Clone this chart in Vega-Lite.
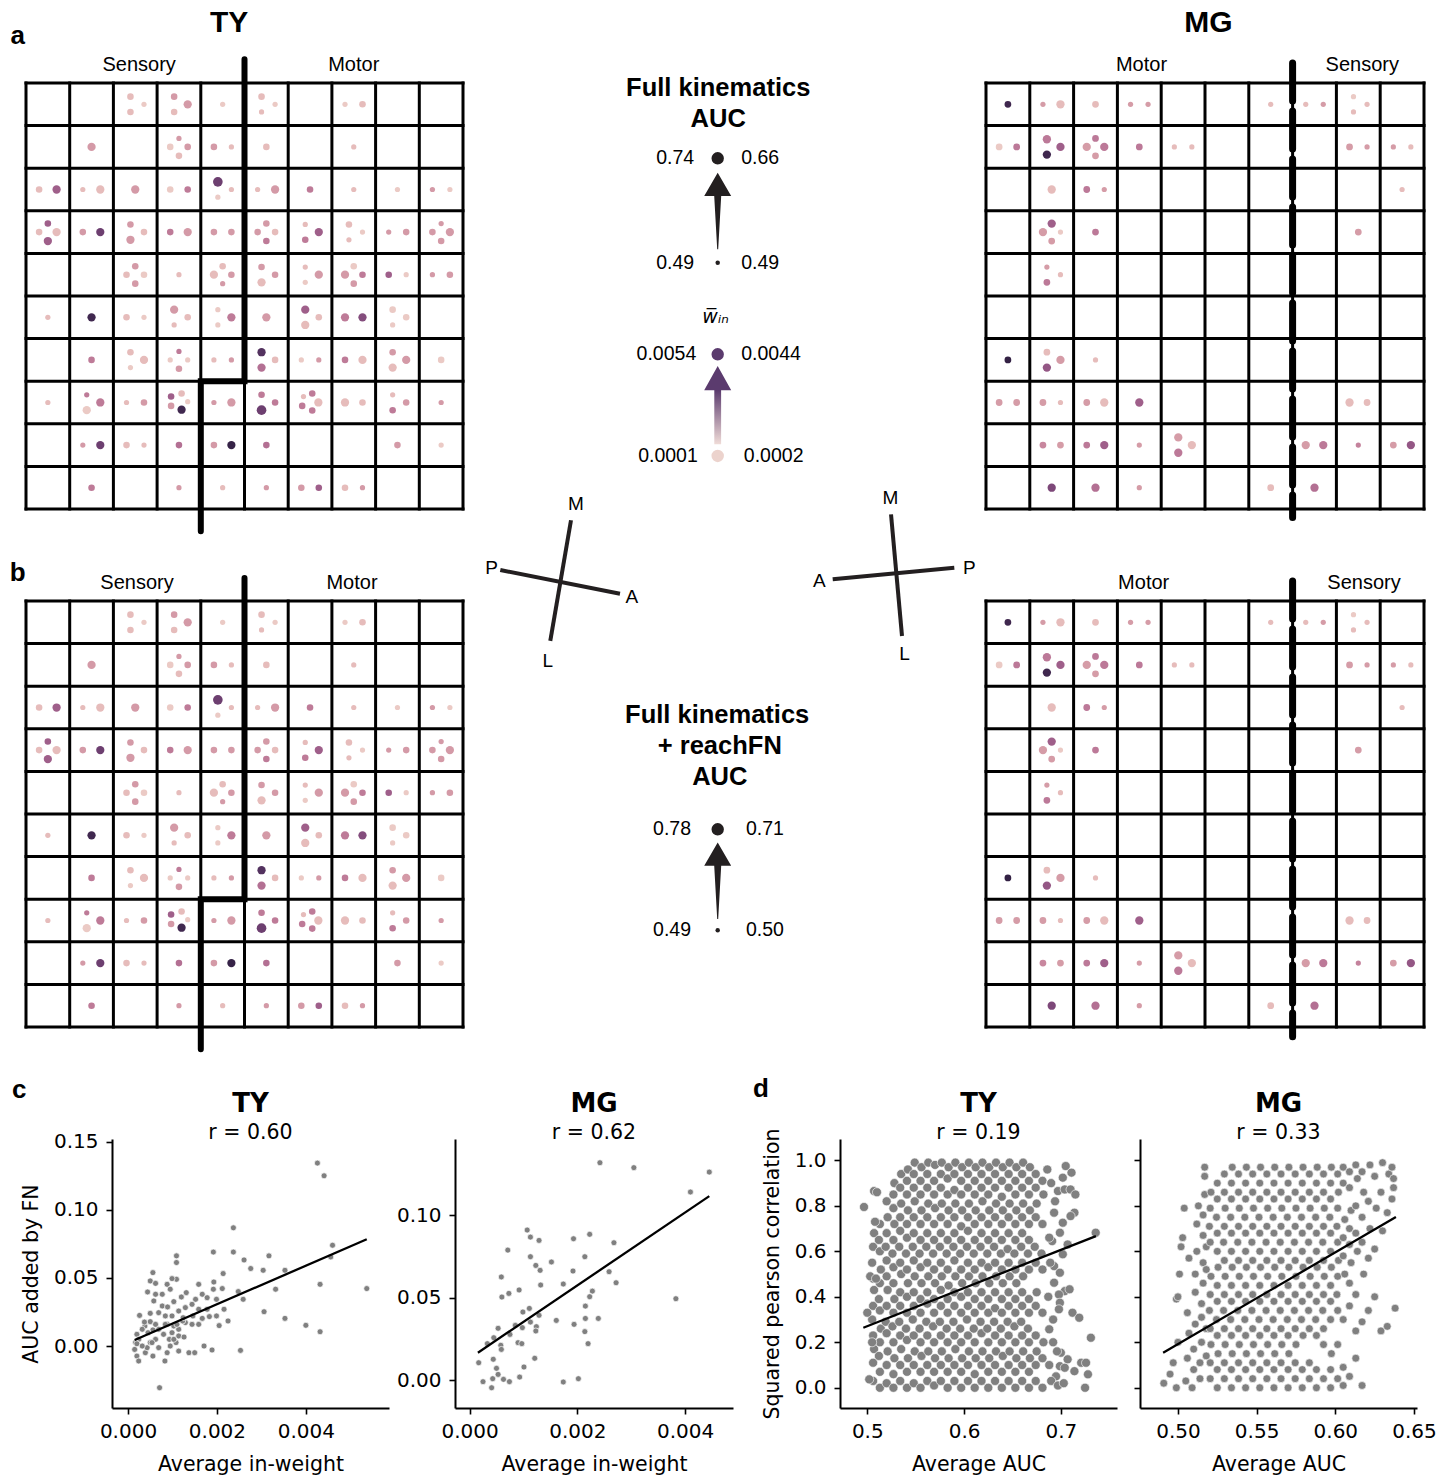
{
"$schema":"https://vega.github.io/schema/vega-lite/v6.json",
"background":"white",
"padding":{"left":9,"top":7,"right":4,"bottom":4},
"config":{
"view":{"stroke":null},
"font":"Liberation Sans",
"text":{"color":"#000"},
"axis":{"labelFont":"DejaVu Sans","titleFont":"DejaVu Sans","labelFontSize":20,"titleFontSize":20.5,"titleFontWeight":"normal","labelColor":"#000","titleColor":"#000","domainColor":"#000","domainWidth":2,"tickColor":"#000","tickWidth":1.6,"tickSize":6,"grid":false,"labelFlush":false},
"axisX":{"labelPadding":7,"titlePadding":13},
"axisY":{"labelPadding":8,"titlePadding":12},
"title":{"font":"DejaVu Sans","fontSize":26,"fontWeight":"bold","color":"#000","subtitleFont":"DejaVu Sans","subtitleFontSize":20.5,"subtitleColor":"#000","subtitlePadding":6,"offset":-4,"frame":"group"}
},
"datasets":{
"gv":[{"v":0,"lo":0,"hi":10},{"v":1,"lo":0,"hi":10},{"v":2,"lo":0,"hi":10},{"v":3,"lo":0,"hi":10},{"v":4,"lo":0,"hi":10},{"v":5,"lo":0,"hi":10},{"v":6,"lo":0,"hi":10},{"v":7,"lo":0,"hi":10},{"v":8,"lo":0,"hi":10},{"v":9,"lo":0,"hi":10},{"v":10,"lo":0,"hi":10}],
"ty":[
{"x":2.39,"y":0.32,"a":0.53,"w":0.00058},{"x":2.7,"y":0.5,"a":0.505,"w":0.00026},{"x":2.39,"y":0.68,"a":0.53,"w":0.00058},{"x":3.39,"y":0.32,"a":0.53,"w":0.0014},{"x":3.7,"y":0.5,"a":0.57,"w":0.0014},{"x":3.39,"y":0.68,"a":0.53,"w":0.00058},{"x":4.5,"y":0.5,"a":0.505,"w":0.00026},{"x":5.39,"y":0.32,"a":0.53,"w":0.00058},{"x":5.7,"y":0.5,"a":0.505,"w":0.00026},{"x":5.39,"y":0.68,"a":0.505,"w":0.00058},{"x":7.3,"y":0.5,"a":0.505,"w":0.00026},{"x":7.7,"y":0.5,"a":0.53,"w":0.00058},
{"x":1.5,"y":1.5,"a":0.57,"w":0.0014},{"x":3.5,"y":1.3,"a":0.505,"w":0.0014},{"x":3.3,"y":1.5,"a":0.53,"w":0.00026},{"x":3.7,"y":1.5,"a":0.53,"w":0.0014},{"x":3.5,"y":1.71,"a":0.53,"w":0.00058},{"x":4.3,"y":1.5,"a":0.53,"w":0.0014},{"x":4.7,"y":1.5,"a":0.505,"w":0.00058},{"x":5.5,"y":1.5,"a":0.53,"w":0.00058},{"x":7.5,"y":1.5,"a":0.505,"w":0.00058},
{"x":0.3,"y":2.5,"a":0.53,"w":0.00058},{"x":0.7,"y":2.5,"a":0.57,"w":0.003},{"x":1.3,"y":2.5,"a":0.505,"w":0.00058},{"x":1.7,"y":2.5,"a":0.57,"w":0.00058},{"x":2.5,"y":2.5,"a":0.57,"w":0.0014},{"x":3.3,"y":2.5,"a":0.53,"w":0.00026},{"x":3.7,"y":2.5,"a":0.53,"w":0.0022},{"x":4.39,"y":2.32,"a":0.61,"w":0.0041},{"x":4.7,"y":2.5,"a":0.505,"w":0.00058},{"x":4.39,"y":2.68,"a":0.505,"w":0.00026},{"x":5.3,"y":2.5,"a":0.505,"w":0.00058},{"x":5.7,"y":2.5,"a":0.57,"w":0.0014},{"x":6.5,"y":2.5,"a":0.53,"w":0.0022},{"x":7.5,"y":2.5,"a":0.505,"w":0.00058},{"x":8.5,"y":2.5,"a":0.505,"w":0.00026},{"x":9.3,"y":2.5,"a":0.505,"w":0.0014},{"x":9.7,"y":2.5,"a":0.505,"w":0.00026},
{"x":0.5,"y":3.3,"a":0.53,"w":0.003},{"x":0.3,"y":3.5,"a":0.53,"w":0.00058},{"x":0.7,"y":3.5,"a":0.57,"w":0.00058},{"x":0.5,"y":3.71,"a":0.57,"w":0.003},{"x":1.3,"y":3.5,"a":0.53,"w":0.0014},{"x":1.7,"y":3.5,"a":0.57,"w":0.0041},{"x":2.39,"y":3.32,"a":0.53,"w":0.0014},{"x":2.7,"y":3.5,"a":0.53,"w":0.00058},{"x":2.39,"y":3.68,"a":0.57,"w":0.0014},{"x":3.3,"y":3.5,"a":0.53,"w":0.0022},{"x":3.7,"y":3.5,"a":0.57,"w":0.0014},{"x":4.3,"y":3.5,"a":0.53,"w":0.0014},{"x":4.7,"y":3.5,"a":0.53,"w":0.0014},{"x":5.5,"y":3.3,"a":0.53,"w":0.0014},{"x":5.3,"y":3.5,"a":0.53,"w":0.0014},{"x":5.7,"y":3.5,"a":0.53,"w":0.00058},{"x":5.5,"y":3.71,"a":0.53,"w":0.0022},{"x":6.39,"y":3.32,"a":0.505,"w":0.00058},{"x":6.7,"y":3.5,"a":0.57,"w":0.003},{"x":6.39,"y":3.68,"a":0.53,"w":0.0022},{"x":7.39,"y":3.32,"a":0.53,"w":0.00058},{"x":7.7,"y":3.5,"a":0.505,"w":0.00026},{"x":7.39,"y":3.68,"a":0.505,"w":0.00058},{"x":8.3,"y":3.5,"a":0.505,"w":0.0014},{"x":8.7,"y":3.5,"a":0.53,"w":0.0014},{"x":9.5,"y":3.3,"a":0.505,"w":0.0014},{"x":9.3,"y":3.5,"a":0.53,"w":0.0014},{"x":9.7,"y":3.5,"a":0.57,"w":0.0014},{"x":9.5,"y":3.71,"a":0.53,"w":0.0014},
{"x":2.5,"y":4.3,"a":0.53,"w":0.0014},{"x":2.3,"y":4.5,"a":0.53,"w":0.00058},{"x":2.7,"y":4.5,"a":0.53,"w":0.00026},{"x":2.5,"y":4.71,"a":0.53,"w":0.0014},{"x":3.5,"y":4.5,"a":0.505,"w":0.00058},{"x":4.5,"y":4.3,"a":0.53,"w":0.00058},{"x":4.3,"y":4.5,"a":0.57,"w":0.00058},{"x":4.7,"y":4.5,"a":0.53,"w":0.0014},{"x":4.5,"y":4.71,"a":0.505,"w":0.0014},{"x":5.39,"y":4.32,"a":0.53,"w":0.0014},{"x":5.7,"y":4.5,"a":0.53,"w":0.0014},{"x":5.39,"y":4.68,"a":0.57,"w":0.00058},{"x":6.39,"y":4.32,"a":0.505,"w":0.00058},{"x":6.7,"y":4.5,"a":0.57,"w":0.0014},{"x":6.39,"y":4.68,"a":0.505,"w":0.00026},{"x":7.5,"y":4.3,"a":0.53,"w":0.00026},{"x":7.3,"y":4.5,"a":0.57,"w":0.0014},{"x":7.7,"y":4.5,"a":0.53,"w":0.0022},{"x":7.5,"y":4.71,"a":0.53,"w":0.0014},{"x":8.3,"y":4.5,"a":0.53,"w":0.003},{"x":8.7,"y":4.5,"a":0.505,"w":0.00026},{"x":9.3,"y":4.5,"a":0.505,"w":0.0014},{"x":9.7,"y":4.5,"a":0.53,"w":0.0014},
{"x":0.5,"y":5.5,"a":0.505,"w":0.00058},{"x":1.5,"y":5.5,"a":0.57,"w":0.005},{"x":2.3,"y":5.5,"a":0.53,"w":0.00058},{"x":2.7,"y":5.5,"a":0.505,"w":0.00026},{"x":3.39,"y":5.32,"a":0.57,"w":0.0014},{"x":3.7,"y":5.5,"a":0.53,"w":0.00058},{"x":3.39,"y":5.68,"a":0.505,"w":0.00058},{"x":4.39,"y":5.32,"a":0.505,"w":0.00026},{"x":4.7,"y":5.5,"a":0.57,"w":0.0022},{"x":4.39,"y":5.68,"a":0.505,"w":0.00026},{"x":5.5,"y":5.5,"a":0.57,"w":0.0014},{"x":6.39,"y":5.32,"a":0.57,"w":0.003},{"x":6.7,"y":5.5,"a":0.53,"w":0.00058},{"x":6.39,"y":5.68,"a":0.57,"w":0.00058},{"x":7.3,"y":5.5,"a":0.57,"w":0.0022},{"x":7.7,"y":5.5,"a":0.57,"w":0.0036},{"x":8.39,"y":5.32,"a":0.53,"w":0.00026},{"x":8.7,"y":5.5,"a":0.53,"w":0.00026},{"x":8.39,"y":5.68,"a":0.505,"w":0.00026},
{"x":1.5,"y":6.5,"a":0.53,"w":0.0022},{"x":2.39,"y":6.32,"a":0.53,"w":0.00058},{"x":2.7,"y":6.5,"a":0.57,"w":0.00058},{"x":2.39,"y":6.68,"a":0.505,"w":0.00026},{"x":3.5,"y":6.3,"a":0.505,"w":0.0022},{"x":3.3,"y":6.5,"a":0.505,"w":0.00026},{"x":3.7,"y":6.5,"a":0.505,"w":0.00026},{"x":3.5,"y":6.71,"a":0.53,"w":0.0014},{"x":4.3,"y":6.5,"a":0.505,"w":0.00058},{"x":4.7,"y":6.5,"a":0.505,"w":0.0014},{"x":5.39,"y":6.32,"a":0.57,"w":0.0046},{"x":5.7,"y":6.5,"a":0.53,"w":0.00058},{"x":5.39,"y":6.68,"a":0.57,"w":0.0025},{"x":6.3,"y":6.5,"a":0.505,"w":0.00026},{"x":6.7,"y":6.5,"a":0.505,"w":0.0014},{"x":7.3,"y":6.5,"a":0.53,"w":0.0022},{"x":7.7,"y":6.5,"a":0.57,"w":0.00058},{"x":8.39,"y":6.32,"a":0.53,"w":0.0014},{"x":8.7,"y":6.5,"a":0.57,"w":0.0014},{"x":8.39,"y":6.68,"a":0.57,"w":0.00058},{"x":9.5,"y":6.5,"a":0.53,"w":0.00026},
{"x":0.5,"y":7.5,"a":0.505,"w":0.00058},{"x":1.39,"y":7.32,"a":0.505,"w":0.0022},{"x":1.7,"y":7.5,"a":0.57,"w":0.0022},{"x":1.39,"y":7.68,"a":0.57,"w":0.00026},{"x":2.3,"y":7.5,"a":0.505,"w":0.00058},{"x":2.7,"y":7.5,"a":0.53,"w":0.0014},{"x":3.32,"y":7.36,"a":0.53,"w":0.003},{"x":3.56,"y":7.29,"a":0.53,"w":0.00058},{"x":3.7,"y":7.48,"a":0.505,"w":0.00026},{"x":3.32,"y":7.58,"a":0.53,"w":0.0014},{"x":3.56,"y":7.67,"a":0.57,"w":0.005},{"x":4.3,"y":7.5,"a":0.505,"w":0.0014},{"x":4.7,"y":7.5,"a":0.57,"w":0.0014},{"x":5.39,"y":7.32,"a":0.53,"w":0.0022},{"x":5.7,"y":7.5,"a":0.53,"w":0.0022},{"x":5.39,"y":7.68,"a":0.61,"w":0.0041},{"x":6.35,"y":7.36,"a":0.505,"w":0.00058},{"x":6.55,"y":7.29,"a":0.53,"w":0.0022},{"x":6.69,"y":7.5,"a":0.57,"w":0.00058},{"x":6.32,"y":7.58,"a":0.53,"w":0.0022},{"x":6.55,"y":7.69,"a":0.53,"w":0.0022},{"x":7.3,"y":7.5,"a":0.57,"w":0.00058},{"x":7.7,"y":7.5,"a":0.53,"w":0.00058},{"x":8.39,"y":7.32,"a":0.505,"w":0.00058},{"x":8.7,"y":7.5,"a":0.53,"w":0.0014},{"x":8.39,"y":7.68,"a":0.53,"w":0.0022},{"x":9.5,"y":7.5,"a":0.505,"w":0.0014},
{"x":1.3,"y":8.5,"a":0.505,"w":0.0014},{"x":1.7,"y":8.5,"a":0.57,"w":0.0041},{"x":2.3,"y":8.5,"a":0.53,"w":0.00058},{"x":2.7,"y":8.5,"a":0.505,"w":0.00058},{"x":3.5,"y":8.5,"a":0.53,"w":0.0025},{"x":4.3,"y":8.5,"a":0.53,"w":0.0014},{"x":4.7,"y":8.5,"a":0.57,"w":0.0052},{"x":5.5,"y":8.5,"a":0.53,"w":0.0025},{"x":8.5,"y":8.5,"a":0.53,"w":0.0014},{"x":9.5,"y":8.5,"a":0.505,"w":0.00026},
{"x":1.5,"y":9.5,"a":0.53,"w":0.0022},{"x":3.5,"y":9.5,"a":0.505,"w":0.0014},{"x":4.5,"y":9.5,"a":0.505,"w":0.00058},{"x":5.5,"y":9.5,"a":0.505,"w":0.0014},{"x":6.3,"y":9.5,"a":0.53,"w":0.0014},{"x":6.7,"y":9.5,"a":0.53,"w":0.003},{"x":7.3,"y":9.5,"a":0.53,"w":0.00058},{"x":7.7,"y":9.5,"a":0.505,"w":0.0014}
],
"mg":[
{"x":0.5,"y":0.5,"a":0.52,"w":0.0041},{"x":1.3,"y":0.5,"a":0.5,"w":0.0012},{"x":1.7,"y":0.5,"a":0.545,"w":0.00058},{"x":2.5,"y":0.5,"a":0.52,"w":0.00058},{"x":3.3,"y":0.5,"a":0.5,"w":0.0012},{"x":3.7,"y":0.5,"a":0.5,"w":0.0012},{"x":6.5,"y":0.5,"a":0.5,"w":0.00058},{"x":7.3,"y":0.5,"a":0.5,"w":0.00058},{"x":7.7,"y":0.5,"a":0.5,"w":0.0012},{"x":8.39,"y":0.32,"a":0.5,"w":0.00033},{"x":8.7,"y":0.5,"a":0.5,"w":0.00058},{"x":8.39,"y":0.68,"a":0.5,"w":0.00058},
{"x":0.3,"y":1.5,"a":0.52,"w":0.00033},{"x":0.7,"y":1.5,"a":0.52,"w":0.0019},{"x":1.39,"y":1.32,"a":0.545,"w":0.0019},{"x":1.7,"y":1.5,"a":0.545,"w":0.0025},{"x":1.39,"y":1.68,"a":0.545,"w":0.0041},{"x":2.5,"y":1.3,"a":0.52,"w":0.0019},{"x":2.3,"y":1.5,"a":0.545,"w":0.0012},{"x":2.7,"y":1.5,"a":0.545,"w":0.0019},{"x":2.5,"y":1.71,"a":0.52,"w":0.0012},{"x":3.5,"y":1.5,"a":0.52,"w":0.0019},{"x":4.3,"y":1.5,"a":0.5,"w":0.00058},{"x":4.7,"y":1.5,"a":0.5,"w":0.00058},{"x":8.3,"y":1.5,"a":0.52,"w":0.0012},{"x":8.7,"y":1.5,"a":0.5,"w":0.0012},{"x":9.3,"y":1.5,"a":0.5,"w":0.0012},{"x":9.7,"y":1.5,"a":0.5,"w":0.00058},
{"x":1.5,"y":2.5,"a":0.545,"w":0.00058},{"x":2.3,"y":2.5,"a":0.52,"w":0.0019},{"x":2.7,"y":2.5,"a":0.5,"w":0.0012},{"x":9.5,"y":2.5,"a":0.5,"w":0.00058},
{"x":1.5,"y":3.3,"a":0.545,"w":0.0025},{"x":1.3,"y":3.5,"a":0.545,"w":0.0012},{"x":1.7,"y":3.5,"a":0.5,"w":0.00033},{"x":1.5,"y":3.71,"a":0.52,"w":0.0012},{"x":2.5,"y":3.5,"a":0.52,"w":0.0019},{"x":8.5,"y":3.5,"a":0.52,"w":0.0012},
{"x":1.39,"y":4.32,"a":0.5,"w":0.0012},{"x":1.7,"y":4.5,"a":0.5,"w":0.00058},{"x":1.39,"y":4.68,"a":0.52,"w":0.0019},
{"x":0.5,"y":6.5,"a":0.52,"w":0.0043},{"x":1.39,"y":6.32,"a":0.52,"w":0.00058},{"x":1.7,"y":6.5,"a":0.545,"w":0.0012},{"x":1.39,"y":6.68,"a":0.545,"w":0.0027},{"x":2.5,"y":6.5,"a":0.5,"w":0.00058},
{"x":0.3,"y":7.5,"a":0.52,"w":0.0012},{"x":0.7,"y":7.5,"a":0.52,"w":0.0012},{"x":1.3,"y":7.5,"a":0.52,"w":0.0012},{"x":1.7,"y":7.5,"a":0.5,"w":0.00058},{"x":2.3,"y":7.5,"a":0.52,"w":0.0012},{"x":2.7,"y":7.5,"a":0.545,"w":0.00058},{"x":3.5,"y":7.5,"a":0.545,"w":0.0025},{"x":8.3,"y":7.5,"a":0.545,"w":0.00058},{"x":8.7,"y":7.5,"a":0.52,"w":0.00058},
{"x":1.3,"y":8.5,"a":0.52,"w":0.0016},{"x":1.7,"y":8.5,"a":0.52,"w":0.0012},{"x":2.3,"y":8.5,"a":0.52,"w":0.0019},{"x":2.7,"y":8.5,"a":0.545,"w":0.0025},{"x":3.5,"y":8.5,"a":0.5,"w":0.0012},{"x":4.39,"y":8.32,"a":0.545,"w":0.0012},{"x":4.7,"y":8.5,"a":0.545,"w":0.00058},{"x":4.39,"y":8.68,"a":0.545,"w":0.0019},{"x":7.3,"y":8.5,"a":0.545,"w":0.0012},{"x":7.7,"y":8.5,"a":0.545,"w":0.0019},{"x":8.5,"y":8.5,"a":0.5,"w":0.0017},{"x":9.3,"y":8.5,"a":0.52,"w":0.0012},{"x":9.7,"y":8.5,"a":0.545,"w":0.0027},
{"x":1.5,"y":9.5,"a":0.545,"w":0.0031},{"x":2.5,"y":9.5,"a":0.545,"w":0.0021},{"x":3.5,"y":9.5,"a":0.5,"w":0.0012},{"x":6.5,"y":9.5,"a":0.52,"w":0.00058},{"x":7.5,"y":9.5,"a":0.545,"w":0.0021}
],
"cty":[
{"x":0.00426,"y":0.1343},{"x":0.00441,"y":0.125},{"x":0.00237,"y":0.0868},{"x":0.00237,"y":0.069},{"x":0.00192,"y":0.069},{"x":0.00261,"y":0.0632},{"x":0.00276,"y":0.0569},{"x":0.00317,"y":0.0662},{"x":0.00304,"y":0.0556},{"x":0.00353,"y":0.0556},{"x":0.0046,"y":0.074},{"x":0.00456,"y":0.0654},{"x":0.00537,"y":0.0422},{"x":0.00432,"y":0.0453},{"x":0.00332,"y":0.0417},{"x":0.00214,"y":0.0532},{"x":0.00193,"y":0.047},{"x":0.00159,"y":0.0453},{"x":0.00212,"y":0.0422},{"x":0.00192,"y":0.0417},{"x":0.00248,"y":0.04},{"x":0.00259,"y":0.0343},{"x":0.00306,"y":0.0252},{"x":0.00353,"y":0.0203},{"x":0.004,"y":0.0152},{"x":0.00432,"y":0.0105},{"x":0.00253,"y":-0.0032},{"x":0.00225,"y":0.0184},{"x":0.00205,"y":0.015},{"x":0.00199,"y":0.0221},{"x":0.00216,"y":0.027},{"x":0.00199,"y":0.0343},{"x":0.00167,"y":0.038},{"x":0.00178,"y":0.0355},{"x":0.00152,"y":0.0343},{"x":0.00144,"y":0.0306},{"x":0.00129,"y":0.0282},{"x":0.00114,"y":0.0257},{"x":0.00103,"y":0.0326},{"x":0.0012,"y":0.036},{"x":0.00131,"y":0.0392},{"x":0.00109,"y":0.049},{"x":0.00109,"y":0.0613},{"x":0.00109,"y":0.0662},{"x":0.00099,"y":0.0495},{"x":0.00088,"y":0.0453},{"x":0.00095,"y":0.0417},{"x":0.00077,"y":0.038},{"x":0.00062,"y":0.038},{"x":0.00044,"y":0.0397},{"x":0.00056,"y":0.0539},{"x":0.0005,"y":0.0478},{"x":0.00062,"y":0.046},{"x":0.00058,"y":0.0331},{"x":0.0005,"y":0.024},{"x":0.00026,"y":0.0225},{"x":0.00038,"y":0.0147},{"x":0.0005,"y":0.0179},{"x":0.00069,"y":0.0245},{"x":0.00077,"y":0.0294},{"x":0.00089,"y":0.0287},{"x":0.00084,"y":0.0221},{"x":0.00099,"y":0.0221},{"x":0.00088,"y":0.0159},{"x":0.00103,"y":0.0147},{"x":0.00114,"y":0.0123},{"x":0.00099,"y":0.0098},{"x":0.00114,"y":0.0074},{"x":0.00126,"y":0.0066},{"x":0.00108,"y":0.0025},{"x":0.00114,"y":-0.0037},{"x":0.00093,"y":0.0049},{"x":0.0008,"y":0.0086},{"x":0.00069,"y":0.0123},{"x":0.00062,"y":0.0159},{"x":0.00056,"y":0.0118},{"x":0.00045,"y":0.0098},{"x":0.00032,"y":0.0123},{"x":0.0002,"y":0.0086},{"x":0.00024,"y":0.0049},{"x":0.00017,"y":0.0025},{"x":0.00015,"y":-0.0025},{"x":0.0002,"y":-0.0074},{"x":0.00024,"y":-0.011},{"x":0.00039,"y":-0.0049},{"x":0.00043,"y":-0.0012},{"x":0.0005,"y":0.0025},{"x":0.00062,"y":0.0049},{"x":0.00056,"y":-0.0074},{"x":0.00069,"y":-0.0012},{"x":0.00083,"y":-0.011},{"x":0.00088,"y":-0.0049},{"x":0.00095,"y":0.0},{"x":0.00103,"y":0.0049},{"x":0.00071,"y":-0.0306},{"x":0.00137,"y":-0.0049},{"x":0.0015,"y":-0.0049},{"x":0.00171,"y":0.0},{"x":0.00189,"y":-0.0029},{"x":0.00144,"y":0.0159},{"x":0.00159,"y":0.0159},{"x":0.00167,"y":0.0203},{"x":0.00183,"y":0.0216},{"x":0.00178,"y":0.027},{"x":0.00129,"y":0.0172},{"x":0.00123,"y":0.0184},{"x":0.00159,"y":0.027},{"x":0.00146,"y":0.0221},{"x":0.00124,"y":0.0208},{"x":0.00037,"y":0.0176},{"x":0.0002,"y":0.0017},{"x":0.00032,"y":0.0},{"x":0.00054,"y":0.0025},{"x":0.0011,"y":0.0159},{"x":0.00084,"y":0.0159}
],
"cmg":[
{"x":0.00242,"y":0.132},{"x":0.00305,"y":0.129},{"x":0.00445,"y":0.1263},{"x":0.0041,"y":0.1142},{"x":0.00383,"y":0.0494},{"x":0.00107,"y":0.0911},{"x":0.00113,"y":0.0868},{"x":0.00129,"y":0.0848},{"x":0.00193,"y":0.0858},{"x":0.00223,"y":0.0885},{"x":0.00268,"y":0.0834},{"x":0.00071,"y":0.0789},{"x":0.00113,"y":0.0749},{"x":0.00214,"y":0.0749},{"x":0.00152,"y":0.0717},{"x":0.00123,"y":0.0696},{"x":0.00131,"y":0.0666},{"x":0.00192,"y":0.0662},{"x":0.00259,"y":0.0658},{"x":0.00059,"y":0.0626},{"x":0.00132,"y":0.0577},{"x":0.00174,"y":0.0583},{"x":0.00272,"y":0.0591},{"x":0.00228,"y":0.054},{"x":0.00223,"y":0.0506},{"x":0.00073,"y":0.0526},{"x":0.0006,"y":0.0504},{"x":0.00092,"y":0.0547},{"x":0.00215,"y":0.0449},{"x":0.00111,"y":0.0435},{"x":0.00099,"y":0.0413},{"x":0.00129,"y":0.0393},{"x":0.00113,"y":0.0352},{"x":0.00124,"y":0.0324},{"x":0.00123,"y":0.0298},{"x":0.00085,"y":0.0332},{"x":0.00098,"y":0.0318},{"x":0.00161,"y":0.0362},{"x":0.00194,"y":0.0338},{"x":0.00215,"y":0.0374},{"x":0.00239,"y":0.0374},{"x":0.00214,"y":0.0294},{"x":0.0022,"y":0.0221},{"x":0.00053,"y":0.0314},{"x":0.00045,"y":0.0257},{"x":0.00033,"y":0.0221},{"x":0.00058,"y":0.0211},{"x":0.00059,"y":0.0186},{"x":0.00075,"y":0.0277},{"x":0.0009,"y":0.0227},{"x":0.00097,"y":0.0221},{"x":0.00044,"y":0.0126},{"x":0.00017,"y":0.0105},{"x":0.0005,"y":0.0071},{"x":0.00053,"y":0.0034},{"x":0.00043,"y":0.0008},{"x":0.00063,"y":0.0004},{"x":0.00074,"y":-0.001},{"x":0.00025,"y":-0.001},{"x":0.00041,"y":-0.0047},{"x":0.00101,"y":0.0079},{"x":0.00093,"y":0.0018},{"x":0.00121,"y":0.0132},{"x":0.00174,"y":-0.0012},{"x":0.00202,"y":0.0008}
],
"dty":[
{"x":0.506,"y":0.03},{"x":0.506,"y":0.11},{"x":0.507,"y":0.17},{"x":0.506,"y":0.23},{"x":0.505,"y":0.3},{"x":0.506,"y":0.36},{"x":0.507,"y":0.43},{"x":0.506,"y":0.48},{"x":0.505,"y":0.55},{"x":0.506,"y":0.62},{"x":0.507,"y":0.68},
{"x":0.513,"y":0.0},{"x":0.513,"y":0.07},{"x":0.512,"y":0.14},{"x":0.513,"y":0.2},{"x":0.514,"y":0.26},{"x":0.513,"y":0.34},{"x":0.512,"y":0.39},{"x":0.513,"y":0.46},{"x":0.514,"y":0.52},{"x":0.513,"y":0.6},{"x":0.512,"y":0.65},{"x":0.513,"y":0.72},
{"x":0.52,"y":0.02},{"x":0.52,"y":0.1},{"x":0.521,"y":0.16},{"x":0.52,"y":0.24},{"x":0.519,"y":0.29},{"x":0.52,"y":0.36},{"x":0.521,"y":0.43},{"x":0.52,"y":0.49},{"x":0.52,"y":0.56},{"x":0.519,"y":0.62},{"x":0.52,"y":0.68},{"x":0.521,"y":0.75},{"x":0.52,"y":0.82},
{"x":0.527,"y":0.0},{"x":0.527,"y":0.06},{"x":0.528,"y":0.13},{"x":0.527,"y":0.2},{"x":0.526,"y":0.27},{"x":0.527,"y":0.33},{"x":0.528,"y":0.39},{"x":0.527,"y":0.46},{"x":0.527,"y":0.53},{"x":0.526,"y":0.59},{"x":0.527,"y":0.65},{"x":0.528,"y":0.72},{"x":0.527,"y":0.79},{"x":0.527,"y":0.85},{"x":0.528,"y":0.9},
{"x":0.534,"y":0.03},{"x":0.534,"y":0.1},{"x":0.535,"y":0.17},{"x":0.534,"y":0.23},{"x":0.533,"y":0.29},{"x":0.534,"y":0.36},{"x":0.534,"y":0.42},{"x":0.535,"y":0.5},{"x":0.534,"y":0.55},{"x":0.533,"y":0.62},{"x":0.534,"y":0.69},{"x":0.534,"y":0.75},{"x":0.535,"y":0.81},{"x":0.534,"y":0.88},{"x":0.535,"y":0.94},
{"x":0.541,"y":0.0},{"x":0.541,"y":0.07},{"x":0.542,"y":0.13},{"x":0.541,"y":0.21},{"x":0.54,"y":0.26},{"x":0.541,"y":0.33},{"x":0.541,"y":0.4},{"x":0.542,"y":0.46},{"x":0.541,"y":0.52},{"x":0.54,"y":0.59},{"x":0.541,"y":0.66},{"x":0.541,"y":0.72},{"x":0.542,"y":0.78},{"x":0.541,"y":0.85},{"x":0.541,"y":0.91},{"x":0.542,"y":0.96},
{"x":0.548,"y":0.02},{"x":0.548,"y":0.1},{"x":0.549,"y":0.16},{"x":0.548,"y":0.23},{"x":0.547,"y":0.3},{"x":0.548,"y":0.36},{"x":0.548,"y":0.42},{"x":0.549,"y":0.49},{"x":0.548,"y":0.56},{"x":0.547,"y":0.62},{"x":0.548,"y":0.68},{"x":0.548,"y":0.75},{"x":0.549,"y":0.82},{"x":0.548,"y":0.88},{"x":0.548,"y":0.94},{"x":0.549,"y":0.99},
{"x":0.555,"y":0.0},{"x":0.555,"y":0.07},{"x":0.556,"y":0.14},{"x":0.555,"y":0.2},{"x":0.554,"y":0.26},{"x":0.555,"y":0.33},{"x":0.555,"y":0.39},{"x":0.556,"y":0.46},{"x":0.555,"y":0.53},{"x":0.554,"y":0.59},{"x":0.555,"y":0.65},{"x":0.555,"y":0.72},{"x":0.556,"y":0.78},{"x":0.555,"y":0.85},{"x":0.555,"y":0.91},{"x":0.556,"y":0.97},
{"x":0.562,"y":0.03},{"x":0.562,"y":0.1},{"x":0.563,"y":0.16},{"x":0.562,"y":0.23},{"x":0.561,"y":0.29},{"x":0.562,"y":0.37},{"x":0.562,"y":0.42},{"x":0.563,"y":0.49},{"x":0.562,"y":0.55},{"x":0.561,"y":0.62},{"x":0.562,"y":0.68},{"x":0.562,"y":0.75},{"x":0.563,"y":0.81},{"x":0.562,"y":0.88},{"x":0.562,"y":0.94},{"x":0.563,"y":0.99},
{"x":0.569,"y":0.01},{"x":0.569,"y":0.07},{"x":0.57,"y":0.13},{"x":0.569,"y":0.2},{"x":0.568,"y":0.27},{"x":0.569,"y":0.33},{"x":0.569,"y":0.39},{"x":0.57,"y":0.46},{"x":0.569,"y":0.52},{"x":0.568,"y":0.59},{"x":0.569,"y":0.65},{"x":0.569,"y":0.72},{"x":0.57,"y":0.79},{"x":0.569,"y":0.85},{"x":0.569,"y":0.91},{"x":0.57,"y":0.98},
{"x":0.576,"y":0.03},{"x":0.576,"y":0.1},{"x":0.577,"y":0.16},{"x":0.576,"y":0.23},{"x":0.575,"y":0.29},{"x":0.576,"y":0.36},{"x":0.576,"y":0.43},{"x":0.577,"y":0.49},{"x":0.576,"y":0.55},{"x":0.575,"y":0.62},{"x":0.576,"y":0.68},{"x":0.576,"y":0.75},{"x":0.577,"y":0.81},{"x":0.576,"y":0.88},{"x":0.576,"y":0.94},{"x":0.577,"y":0.99},
{"x":0.583,"y":0.0},{"x":0.583,"y":0.07},{"x":0.584,"y":0.13},{"x":0.583,"y":0.2},{"x":0.582,"y":0.26},{"x":0.583,"y":0.33},{"x":0.583,"y":0.39},{"x":0.584,"y":0.45},{"x":0.583,"y":0.52},{"x":0.582,"y":0.59},{"x":0.583,"y":0.65},{"x":0.583,"y":0.72},{"x":0.584,"y":0.78},{"x":0.583,"y":0.85},{"x":0.583,"y":0.92},{"x":0.584,"y":0.97},
{"x":0.59,"y":0.03},{"x":0.59,"y":0.1},{"x":0.591,"y":0.17},{"x":0.59,"y":0.23},{"x":0.589,"y":0.29},{"x":0.59,"y":0.36},{"x":0.59,"y":0.42},{"x":0.591,"y":0.49},{"x":0.59,"y":0.56},{"x":0.589,"y":0.62},{"x":0.59,"y":0.68},{"x":0.59,"y":0.75},{"x":0.591,"y":0.81},{"x":0.59,"y":0.87},{"x":0.59,"y":0.94},{"x":0.591,"y":0.99},
{"x":0.597,"y":0.0},{"x":0.597,"y":0.07},{"x":0.598,"y":0.13},{"x":0.597,"y":0.2},{"x":0.596,"y":0.26},{"x":0.597,"y":0.33},{"x":0.597,"y":0.4},{"x":0.598,"y":0.46},{"x":0.597,"y":0.52},{"x":0.596,"y":0.59},{"x":0.597,"y":0.65},{"x":0.597,"y":0.71},{"x":0.598,"y":0.78},{"x":0.597,"y":0.85},{"x":0.597,"y":0.91},{"x":0.598,"y":0.97},
{"x":0.604,"y":0.03},{"x":0.604,"y":0.1},{"x":0.605,"y":0.16},{"x":0.604,"y":0.23},{"x":0.603,"y":0.3},{"x":0.604,"y":0.36},{"x":0.604,"y":0.42},{"x":0.605,"y":0.49},{"x":0.604,"y":0.55},{"x":0.603,"y":0.62},{"x":0.604,"y":0.69},{"x":0.604,"y":0.75},{"x":0.605,"y":0.81},{"x":0.604,"y":0.88},{"x":0.604,"y":0.94},{"x":0.605,"y":0.99},
{"x":0.611,"y":0.0},{"x":0.611,"y":0.06},{"x":0.612,"y":0.13},{"x":0.611,"y":0.2},{"x":0.61,"y":0.26},{"x":0.611,"y":0.33},{"x":0.611,"y":0.39},{"x":0.612,"y":0.46},{"x":0.611,"y":0.52},{"x":0.61,"y":0.59},{"x":0.611,"y":0.65},{"x":0.611,"y":0.72},{"x":0.612,"y":0.78},{"x":0.611,"y":0.85},{"x":0.611,"y":0.91},{"x":0.612,"y":0.97},
{"x":0.618,"y":0.03},{"x":0.618,"y":0.1},{"x":0.619,"y":0.16},{"x":0.618,"y":0.24},{"x":0.617,"y":0.29},{"x":0.618,"y":0.36},{"x":0.618,"y":0.42},{"x":0.619,"y":0.49},{"x":0.618,"y":0.55},{"x":0.617,"y":0.62},{"x":0.618,"y":0.68},{"x":0.618,"y":0.75},{"x":0.619,"y":0.82},{"x":0.618,"y":0.88},{"x":0.618,"y":0.94},{"x":0.619,"y":0.99},
{"x":0.625,"y":0.0},{"x":0.625,"y":0.07},{"x":0.626,"y":0.13},{"x":0.625,"y":0.2},{"x":0.624,"y":0.26},{"x":0.625,"y":0.33},{"x":0.625,"y":0.39},{"x":0.626,"y":0.46},{"x":0.625,"y":0.53},{"x":0.624,"y":0.59},{"x":0.625,"y":0.65},{"x":0.625,"y":0.72},{"x":0.626,"y":0.78},{"x":0.625,"y":0.85},{"x":0.625,"y":0.91},{"x":0.626,"y":0.97},
{"x":0.632,"y":0.03},{"x":0.632,"y":0.1},{"x":0.633,"y":0.16},{"x":0.632,"y":0.23},{"x":0.631,"y":0.29},{"x":0.632,"y":0.35},{"x":0.632,"y":0.42},{"x":0.633,"y":0.49},{"x":0.632,"y":0.55},{"x":0.631,"y":0.62},{"x":0.632,"y":0.68},{"x":0.632,"y":0.75},{"x":0.633,"y":0.81},{"x":0.632,"y":0.88},{"x":0.632,"y":0.94},{"x":0.633,"y":0.99},
{"x":0.639,"y":0.0},{"x":0.639,"y":0.07},{"x":0.64,"y":0.14},{"x":0.639,"y":0.2},{"x":0.638,"y":0.26},{"x":0.639,"y":0.33},{"x":0.639,"y":0.39},{"x":0.64,"y":0.46},{"x":0.639,"y":0.52},{"x":0.638,"y":0.59},{"x":0.639,"y":0.65},{"x":0.639,"y":0.72},{"x":0.64,"y":0.78},{"x":0.639,"y":0.84},{"x":0.639,"y":0.91},{"x":0.64,"y":0.97},
{"x":0.646,"y":0.03},{"x":0.646,"y":0.1},{"x":0.647,"y":0.16},{"x":0.646,"y":0.23},{"x":0.645,"y":0.29},{"x":0.646,"y":0.36},{"x":0.646,"y":0.42},{"x":0.647,"y":0.49},{"x":0.646,"y":0.55},{"x":0.645,"y":0.61},{"x":0.646,"y":0.68},{"x":0.646,"y":0.75},{"x":0.647,"y":0.81},{"x":0.646,"y":0.88},{"x":0.646,"y":0.94},{"x":0.647,"y":0.99},
{"x":0.653,"y":0.0},{"x":0.653,"y":0.07},{"x":0.654,"y":0.13},{"x":0.653,"y":0.2},{"x":0.652,"y":0.27},{"x":0.653,"y":0.33},{"x":0.653,"y":0.39},{"x":0.654,"y":0.46},{"x":0.653,"y":0.52},{"x":0.652,"y":0.59},{"x":0.653,"y":0.65},{"x":0.653,"y":0.72},{"x":0.654,"y":0.78},{"x":0.653,"y":0.85},{"x":0.653,"y":0.91},{"x":0.654,"y":0.97},
{"x":0.66,"y":0.03},{"x":0.66,"y":0.1},{"x":0.661,"y":0.16},{"x":0.66,"y":0.23},{"x":0.659,"y":0.29},{"x":0.66,"y":0.36},{"x":0.66,"y":0.42},{"x":0.661,"y":0.49},{"x":0.66,"y":0.55},{"x":0.659,"y":0.62},{"x":0.66,"y":0.68},{"x":0.66,"y":0.75},{"x":0.661,"y":0.81},{"x":0.66,"y":0.88},{"x":0.66,"y":0.94},{"x":0.661,"y":0.99},
{"x":0.667,"y":0.0},{"x":0.667,"y":0.07},{"x":0.668,"y":0.13},{"x":0.667,"y":0.2},{"x":0.666,"y":0.26},{"x":0.667,"y":0.33},{"x":0.667,"y":0.39},{"x":0.667,"y":0.52},{"x":0.666,"y":0.59},{"x":0.667,"y":0.65},{"x":0.667,"y":0.72},{"x":0.668,"y":0.78},{"x":0.667,"y":0.85},{"x":0.667,"y":0.91},{"x":0.668,"y":0.97},
{"x":0.674,"y":0.03},{"x":0.674,"y":0.1},{"x":0.675,"y":0.16},{"x":0.674,"y":0.23},{"x":0.674,"y":0.36},{"x":0.675,"y":0.42},{"x":0.674,"y":0.55},{"x":0.673,"y":0.62},{"x":0.674,"y":0.75},{"x":0.675,"y":0.81},{"x":0.674,"y":0.88},{"x":0.674,"y":0.94},
{"x":0.681,"y":0.0},{"x":0.681,"y":0.13},{"x":0.682,"y":0.2},{"x":0.681,"y":0.33},{"x":0.681,"y":0.52},{"x":0.68,"y":0.59},{"x":0.681,"y":0.72},{"x":0.682,"y":0.85},{"x":0.681,"y":0.91},
{"x":0.4966,"y":0.795},{"x":0.507,"y":0.865},{"x":0.51,"y":0.86},{"x":0.5,"y":0.33},{"x":0.503,"y":0.49},{"x":0.509,"y":0.48},{"x":0.502,"y":0.037},{"x":0.505,"y":0.2},{"x":0.508,"y":0.73},{"x":0.705,"y":0.975},{"x":0.711,"y":0.946},{"x":0.702,"y":0.924},{"x":0.697,"y":0.865},{"x":0.704,"y":0.872},{"x":0.71,"y":0.872},{"x":0.715,"y":0.85},{"x":0.714,"y":0.77},{"x":0.71,"y":0.755},{"x":0.702,"y":0.726},{"x":0.699,"y":0.682},{"x":0.707,"y":0.63},{"x":0.736,"y":0.682},{"x":0.691,"y":0.645},{"x":0.702,"y":0.587},{"x":0.693,"y":0.535},{"x":0.699,"y":0.506},{"x":0.693,"y":0.462},{"x":0.704,"y":0.425},{"x":0.709,"y":0.433},{"x":0.698,"y":0.41},{"x":0.699,"y":0.374},{"x":0.698,"y":0.345},{"x":0.712,"y":0.33},{"x":0.719,"y":0.308},{"x":0.7,"y":0.154},{"x":0.707,"y":0.125},{"x":0.699,"y":0.095},{"x":0.704,"y":0.088},{"x":0.714,"y":0.073},{"x":0.721,"y":0.11},{"x":0.726,"y":0.11},{"x":0.728,"y":0.059},{"x":0.725,"y":0.0},{"x":0.731,"y":0.22},{"x":0.688,"y":0.257},{"x":0.692,"y":0.2},{"x":0.695,"y":0.05},{"x":0.69,"y":0.03},{"x":0.697,"y":0.01},{"x":0.703,"y":0.02},{"x":0.693,"y":0.77},{"x":0.69,"y":0.9},{"x":0.694,"y":0.82},{"x":0.689,"y":0.55},{"x":0.692,"y":0.3},{"x":0.696,"y":0.16},{"x":0.687,"y":0.4},{"x":0.688,"y":0.66},{"x":0.686,"y":0.96},{"x":0.688,"y":0.1}
],
"dmg":[
{"x":0.491,"y":0.02},{"x":0.495,"y":0.06},{"x":0.497,"y":0.11},{"x":0.499,"y":0.0},{"x":0.5,"y":0.2},{"x":0.499,"y":0.39},{"x":0.5,"y":0.4},{"x":0.501,"y":0.5},{"x":0.502,"y":0.62},{"x":0.503,"y":0.66},{"x":0.504,"y":0.79},{"x":0.505,"y":0.03},{"x":0.506,"y":0.13},{"x":0.507,"y":0.24},{"x":0.506,"y":0.33},{"x":0.507,"y":0.57},{"x":0.509,"y":0.0},{"x":0.51,"y":0.08},{"x":0.51,"y":0.17},{"x":0.511,"y":0.28},{"x":0.511,"y":0.42},{"x":0.511,"y":0.5},{"x":0.512,"y":0.6},{"x":0.512,"y":0.72},{"x":0.513,"y":0.8},{"x":0.514,"y":0.04},{"x":0.514,"y":0.11},{"x":0.515,"y":0.2},{"x":0.515,"y":0.31},{"x":0.515,"y":0.37},{"x":0.516,"y":0.46},{"x":0.516,"y":0.55},{"x":0.516,"y":0.67},{"x":0.516,"y":0.76},{"x":0.517,"y":0.85},{"x":0.517,"y":0.93},{"x":0.517,"y":0.97},{"x":0.518,"y":0.14},{"x":0.518,"y":0.26},{"x":0.518,"y":0.52},{"x":0.518,"y":0.62},
{"x":0.5205,"y":0.04},{"x":0.5205,"y":0.11},{"x":0.521,"y":0.19},{"x":0.5205,"y":0.26},{"x":0.52,"y":0.34},{"x":0.5205,"y":0.41},{"x":0.521,"y":0.49},{"x":0.5205,"y":0.64},{"x":0.52,"y":0.71},{"x":0.5205,"y":0.79},{"x":0.521,"y":0.86},
{"x":0.525,"y":0.0},{"x":0.525,"y":0.08},{"x":0.5255,"y":0.15},{"x":0.525,"y":0.23},{"x":0.5245,"y":0.3},{"x":0.525,"y":0.38},{"x":0.525,"y":0.45},{"x":0.5255,"y":0.53},{"x":0.525,"y":0.6},{"x":0.525,"y":0.68},{"x":0.5245,"y":0.75},{"x":0.525,"y":0.83},{"x":0.525,"y":0.9},
{"x":0.5295,"y":0.04},{"x":0.5295,"y":0.11},{"x":0.53,"y":0.19},{"x":0.5295,"y":0.26},{"x":0.529,"y":0.34},{"x":0.5295,"y":0.41},{"x":0.53,"y":0.49},{"x":0.5295,"y":0.56},{"x":0.529,"y":0.64},{"x":0.5295,"y":0.71},{"x":0.53,"y":0.79},{"x":0.5295,"y":0.86},{"x":0.5295,"y":0.94},
{"x":0.534,"y":0.0},{"x":0.534,"y":0.08},{"x":0.5345,"y":0.15},{"x":0.534,"y":0.23},{"x":0.5335,"y":0.3},{"x":0.534,"y":0.38},{"x":0.534,"y":0.45},{"x":0.5345,"y":0.53},{"x":0.534,"y":0.6},{"x":0.534,"y":0.68},{"x":0.5335,"y":0.75},{"x":0.534,"y":0.83},{"x":0.534,"y":0.9},{"x":0.5345,"y":0.97},
{"x":0.5385,"y":0.04},{"x":0.5385,"y":0.11},{"x":0.539,"y":0.19},{"x":0.5385,"y":0.26},{"x":0.538,"y":0.34},{"x":0.5385,"y":0.41},{"x":0.539,"y":0.49},{"x":0.5385,"y":0.56},{"x":0.538,"y":0.64},{"x":0.5385,"y":0.71},{"x":0.539,"y":0.79},{"x":0.5385,"y":0.86},{"x":0.5385,"y":0.94},
{"x":0.543,"y":0.0},{"x":0.543,"y":0.08},{"x":0.5435,"y":0.15},{"x":0.543,"y":0.23},{"x":0.5425,"y":0.3},{"x":0.543,"y":0.38},{"x":0.543,"y":0.45},{"x":0.5435,"y":0.53},{"x":0.543,"y":0.6},{"x":0.543,"y":0.68},{"x":0.5425,"y":0.75},{"x":0.543,"y":0.83},{"x":0.543,"y":0.9},{"x":0.5435,"y":0.97},
{"x":0.5475,"y":0.04},{"x":0.5475,"y":0.11},{"x":0.548,"y":0.19},{"x":0.5475,"y":0.26},{"x":0.547,"y":0.34},{"x":0.5475,"y":0.41},{"x":0.548,"y":0.49},{"x":0.5475,"y":0.56},{"x":0.547,"y":0.64},{"x":0.5475,"y":0.71},{"x":0.548,"y":0.79},{"x":0.5475,"y":0.86},{"x":0.5475,"y":0.94},
{"x":0.552,"y":0.0},{"x":0.552,"y":0.08},{"x":0.5525,"y":0.15},{"x":0.552,"y":0.23},{"x":0.5515,"y":0.3},{"x":0.552,"y":0.38},{"x":0.552,"y":0.45},{"x":0.5525,"y":0.53},{"x":0.552,"y":0.6},{"x":0.552,"y":0.68},{"x":0.5515,"y":0.75},{"x":0.552,"y":0.83},{"x":0.552,"y":0.9},{"x":0.5525,"y":0.97},
{"x":0.5565,"y":0.04},{"x":0.5565,"y":0.11},{"x":0.557,"y":0.19},{"x":0.5565,"y":0.26},{"x":0.556,"y":0.34},{"x":0.5565,"y":0.41},{"x":0.557,"y":0.49},{"x":0.5565,"y":0.56},{"x":0.556,"y":0.64},{"x":0.5565,"y":0.71},{"x":0.557,"y":0.79},{"x":0.5565,"y":0.86},{"x":0.5565,"y":0.94},
{"x":0.561,"y":0.0},{"x":0.561,"y":0.08},{"x":0.5615,"y":0.15},{"x":0.561,"y":0.23},{"x":0.5605,"y":0.3},{"x":0.561,"y":0.38},{"x":0.561,"y":0.45},{"x":0.5615,"y":0.53},{"x":0.561,"y":0.6},{"x":0.561,"y":0.68},{"x":0.5605,"y":0.75},{"x":0.561,"y":0.83},{"x":0.561,"y":0.9},{"x":0.5615,"y":0.97},
{"x":0.5655,"y":0.04},{"x":0.5655,"y":0.11},{"x":0.566,"y":0.19},{"x":0.5655,"y":0.26},{"x":0.565,"y":0.34},{"x":0.5655,"y":0.41},{"x":0.566,"y":0.49},{"x":0.5655,"y":0.56},{"x":0.565,"y":0.64},{"x":0.5655,"y":0.71},{"x":0.566,"y":0.79},{"x":0.5655,"y":0.86},{"x":0.5655,"y":0.94},
{"x":0.57,"y":0.0},{"x":0.57,"y":0.08},{"x":0.5705,"y":0.15},{"x":0.57,"y":0.23},{"x":0.5695,"y":0.3},{"x":0.57,"y":0.38},{"x":0.57,"y":0.45},{"x":0.5705,"y":0.53},{"x":0.57,"y":0.6},{"x":0.57,"y":0.68},{"x":0.5695,"y":0.75},{"x":0.57,"y":0.83},{"x":0.57,"y":0.9},{"x":0.5705,"y":0.97},
{"x":0.5745,"y":0.04},{"x":0.5745,"y":0.11},{"x":0.575,"y":0.19},{"x":0.5745,"y":0.26},{"x":0.574,"y":0.34},{"x":0.5745,"y":0.41},{"x":0.575,"y":0.49},{"x":0.5745,"y":0.56},{"x":0.574,"y":0.64},{"x":0.5745,"y":0.71},{"x":0.575,"y":0.79},{"x":0.5745,"y":0.86},{"x":0.5745,"y":0.94},
{"x":0.579,"y":0.0},{"x":0.579,"y":0.08},{"x":0.5795,"y":0.23},{"x":0.5785,"y":0.3},{"x":0.579,"y":0.38},{"x":0.579,"y":0.45},{"x":0.5795,"y":0.53},{"x":0.579,"y":0.6},{"x":0.579,"y":0.68},{"x":0.5785,"y":0.75},{"x":0.579,"y":0.83},{"x":0.579,"y":0.9},{"x":0.5795,"y":0.97},
{"x":0.5835,"y":0.04},{"x":0.5835,"y":0.11},{"x":0.5835,"y":0.26},{"x":0.583,"y":0.34},{"x":0.5835,"y":0.41},{"x":0.584,"y":0.49},{"x":0.5835,"y":0.56},{"x":0.583,"y":0.64},{"x":0.5835,"y":0.71},{"x":0.584,"y":0.79},{"x":0.5835,"y":0.86},{"x":0.5835,"y":0.94},
{"x":0.588,"y":0.0},{"x":0.588,"y":0.08},{"x":0.588,"y":0.23},{"x":0.5875,"y":0.3},{"x":0.588,"y":0.38},{"x":0.588,"y":0.45},{"x":0.5885,"y":0.53},{"x":0.588,"y":0.6},{"x":0.588,"y":0.68},{"x":0.5875,"y":0.75},{"x":0.588,"y":0.83},{"x":0.588,"y":0.9},{"x":0.5885,"y":0.97},
{"x":0.5925,"y":0.04},{"x":0.5925,"y":0.19},{"x":0.5925,"y":0.26},{"x":0.592,"y":0.34},{"x":0.5925,"y":0.41},{"x":0.593,"y":0.49},{"x":0.5925,"y":0.56},{"x":0.592,"y":0.64},{"x":0.5925,"y":0.71},{"x":0.593,"y":0.79},{"x":0.5925,"y":0.86},{"x":0.5925,"y":0.94},
{"x":0.597,"y":0.0},{"x":0.597,"y":0.08},{"x":0.5975,"y":0.15},{"x":0.597,"y":0.3},{"x":0.597,"y":0.38},{"x":0.597,"y":0.45},{"x":0.5975,"y":0.53},{"x":0.597,"y":0.6},{"x":0.597,"y":0.68},{"x":0.5965,"y":0.75},{"x":0.597,"y":0.83},{"x":0.597,"y":0.9},{"x":0.5975,"y":0.97},
{"x":0.6015,"y":0.04},{"x":0.6015,"y":0.19},{"x":0.6015,"y":0.34},{"x":0.601,"y":0.41},{"x":0.6015,"y":0.49},{"x":0.602,"y":0.56},{"x":0.6015,"y":0.64},{"x":0.601,"y":0.71},{"x":0.6015,"y":0.79},{"x":0.602,"y":0.86},{"x":0.6015,"y":0.94},
{"x":0.605,"y":0.01},{"x":0.605,"y":0.09},{"x":0.605,"y":0.3},{"x":0.606,"y":0.5},{"x":0.605,"y":0.58},{"x":0.605,"y":0.66},{"x":0.606,"y":0.74},{"x":0.605,"y":0.9},{"x":0.605,"y":0.97},
{"x":0.609,"y":0.05},{"x":0.609,"y":0.36},{"x":0.609,"y":0.46},{"x":0.61,"y":0.55},{"x":0.609,"y":0.63},{"x":0.609,"y":0.7},{"x":0.61,"y":0.78},{"x":0.609,"y":0.88},{"x":0.609,"y":0.95},
{"x":0.613,"y":0.13},{"x":0.613,"y":0.25},{"x":0.613,"y":0.41},{"x":0.614,"y":0.6},{"x":0.613,"y":0.68},{"x":0.613,"y":0.8},{"x":0.614,"y":0.92},{"x":0.613,"y":0.98},
{"x":0.617,"y":0.01},{"x":0.617,"y":0.29},{"x":0.618,"y":0.5},{"x":0.617,"y":0.64},{"x":0.617,"y":0.75},{"x":0.618,"y":0.86},{"x":0.617,"y":0.95},
{"x":0.621,"y":0.34},{"x":0.621,"y":0.57},{"x":0.622,"y":0.7},{"x":0.621,"y":0.82},{"x":0.622,"y":0.98},
{"x":0.625,"y":0.4},{"x":0.625,"y":0.61},{"x":0.626,"y":0.79},{"x":0.625,"y":0.93},
{"x":0.629,"y":0.25},{"x":0.63,"y":0.69},{"x":0.629,"y":0.86},{"x":0.63,"y":0.99},
{"x":0.633,"y":0.27},{"x":0.633,"y":0.77},{"x":0.634,"y":0.94},
{"x":0.636,"y":0.83},{"x":0.636,"y":0.97},{"x":0.637,"y":0.88},{"x":0.638,"y":0.35},{"x":0.637,"y":0.92}
]
},
"vconcat":[
{"hconcat":[
 {"width":437,"height":944,
  "resolve":{"scale":{"y":"independent"}},
  "layer":[
   {"encoding":{"x":{"field":"x","type":"quantitative","scale":{"domain":[0,10]},"axis":null},"y":{"field":"y","type":"quantitative","scale":{"domain":[0,22.16],"reverse":true},"axis":null}},
    "layer":[
     {"data":{"name":"gv"},"mark":{"type":"rule","strokeWidth":3,"color":"#000","strokeCap":"square"},"encoding":{"x":{"field":"v","type":"quantitative"},"y":{"field":"lo","type":"quantitative"},"y2":{"field":"hi"}}},
     {"data":{"name":"gv"},"mark":{"type":"rule","strokeWidth":3,"color":"#000","strokeCap":"square"},"encoding":{"y":{"field":"v","type":"quantitative"},"x":{"field":"lo","type":"quantitative"},"x2":{"field":"hi"}}},
     {"data":{"name":"ty"},"mark":{"type":"circle","opacity":1},"encoding":{"size":{"field":"a","type":"quantitative","scale":{"domain":[0.49,0.74],"range":[18,175]},"legend":null},"color":{"field":"w","type":"quantitative","scale":{"domain":[0.0001,0.00063,0.00116,0.00169,0.00222,0.00275,0.00328,0.00381,0.00434,0.00487,0.0054],"range":["#edd1cb","#e5baba","#daa4ac","#cd8ea1","#bd7a98","#aa678f","#935685","#7b4778","#613969","#462b55","#2d1e3e"]},"legend":null}}},
     {"data":{"values":[{"x":5,"y":-0.56,"o":0},{"x":5,"y":7,"o":1},{"x":4,"y":7,"o":2},{"x":4,"y":10.52,"o":3}]},"mark":{"type":"line","color":"#000","strokeWidth":6,"strokeCap":"round","clip":false},"encoding":{"order":{"field":"o","type":"quantitative"}}},
     {"data":{"values":[{"t":"Sensory","x":2.59,"y":-0.42},{"t":"Motor","x":7.5,"y":-0.42}]},"mark":{"type":"text","fontSize":20,"baseline":"middle"},"encoding":{"text":{"field":"t"}}},
     {"data":{"values":[{"t":"TY","x":4.65,"y":-1.41}]},"mark":{"type":"text","fontSize":30,"fontWeight":"bold","baseline":"middle"},"encoding":{"text":{"field":"t"}}},
     {"data":{"values":[{"t":"a","x":-0.19,"y":-1.1}]},"mark":{"type":"text","fontSize":26,"fontWeight":"bold","baseline":"middle"},"encoding":{"text":{"field":"t"}}}
    ]},
   {"encoding":{"x":{"field":"x","type":"quantitative","scale":{"domain":[0,10]},"axis":null},"y":{"field":"y","type":"quantitative","scale":{"domain":[-12.16,10],"reverse":true},"axis":null}},
    "layer":[
     {"data":{"name":"gv"},"mark":{"type":"rule","strokeWidth":3,"color":"#000","strokeCap":"square"},"encoding":{"x":{"field":"v","type":"quantitative"},"y":{"field":"lo","type":"quantitative"},"y2":{"field":"hi"}}},
     {"data":{"name":"gv"},"mark":{"type":"rule","strokeWidth":3,"color":"#000","strokeCap":"square"},"encoding":{"y":{"field":"v","type":"quantitative"},"x":{"field":"lo","type":"quantitative"},"x2":{"field":"hi"}}},
     {"data":{"name":"ty"},"mark":{"type":"circle","opacity":1},"encoding":{"size":{"field":"a","type":"quantitative","scale":{"domain":[0.49,0.74],"range":[18,175]},"legend":null},"color":{"field":"w","type":"quantitative","scale":{"domain":[0.0001,0.00063,0.00116,0.00169,0.00222,0.00275,0.00328,0.00381,0.00434,0.00487,0.0054],"range":["#edd1cb","#e5baba","#daa4ac","#cd8ea1","#bd7a98","#aa678f","#935685","#7b4778","#613969","#462b55","#2d1e3e"]},"legend":null}}},
     {"data":{"values":[{"x":5,"y":-0.54,"o":0},{"x":5,"y":7,"o":1},{"x":4,"y":7,"o":2},{"x":4,"y":10.52,"o":3}]},"mark":{"type":"line","color":"#000","strokeWidth":6,"strokeCap":"round","clip":false},"encoding":{"order":{"field":"o","type":"quantitative"}}},
     {"data":{"values":[{"t":"Sensory","x":2.54,"y":-0.42},{"t":"Motor","x":7.46,"y":-0.42}]},"mark":{"type":"text","fontSize":20,"baseline":"middle"},"encoding":{"text":{"field":"t"}}},
     {"data":{"values":[{"t":"b","x":-0.19,"y":-0.66}]},"mark":{"type":"text","fontSize":26,"fontWeight":"bold","baseline":"middle"},"encoding":{"text":{"field":"t"}}}
    ]}
  ]},
 {"width":523,"height":944,
  "encoding":{"x":{"field":"x","type":"quantitative","scale":{"domain":[0,100]},"axis":null},"y":{"field":"y","type":"quantitative","scale":{"domain":[0,100],"reverse":true},"axis":null}},
  "layer":[
   {"data":{"values":[{"x":7.13,"y":51.59,"x2":30.02,"y2":54.1},{"x":20.65,"y":46.32,"x2":16.69,"y2":59.1},{"x":70.69,"y":52.58,"x2":93.94,"y2":51.34},{"x":81.84,"y":45.69,"x2":83.94,"y2":58.58}]},"mark":{"type":"rule","color":"#231f20","strokeWidth":4},"encoding":{"x2":{"field":"x2"},"y2":{"field":"y2"}}},
   {"data":{"values":[{"t":"M","x":21.6,"y":44.63},{"t":"L","x":16.2,"y":61.2},{"t":"P","x":5.49,"y":51.34},{"t":"A","x":32.3,"y":54.45},{"t":"M","x":81.7,"y":43.93},{"t":"L","x":84.4,"y":60.5},{"t":"A","x":68.13,"y":52.75},{"t":"P","x":96.8,"y":51.34}]},"mark":{"type":"text","fontSize":19,"baseline":"middle"},"encoding":{"text":{"field":"t"}}},
   {"data":{"values":[{"t":"Full kinematics","x":48.8,"y":0.53},{"t":"AUC","x":48.8,"y":3.81},{"t":"Full kinematics","x":48.6,"y":66.9},{"t":"+ reachFN","x":49.1,"y":70.2},{"t":"AUC","x":49.1,"y":73.5}]},"mark":{"type":"text","fontSize":25.5,"fontWeight":"bold","baseline":"middle"},"encoding":{"text":{"field":"t"}}},
   {"data":{"values":[{"t":"0.74","x":44.2,"y":7.98},{"t":"0.49","x":44.2,"y":19.04},{"t":"0.0054","x":44.6,"y":28.74},{"t":"0.0001","x":44.9,"y":39.51},{"t":"0.78","x":43.6,"y":79.06},{"t":"0.49","x":43.6,"y":89.76}]},"mark":{"type":"text","fontSize":19.5,"align":"right","baseline":"middle"},"encoding":{"text":{"field":"t"}}},
   {"data":{"values":[{"t":"0.66","x":53.2,"y":7.98},{"t":"0.49","x":53.2,"y":19.04},{"t":"0.0044","x":53.2,"y":28.74},{"t":"0.0002","x":53.7,"y":39.51},{"t":"0.71","x":54.1,"y":79.06},{"t":"0.50","x":54.1,"y":89.76}]},"mark":{"type":"text","fontSize":19.5,"align":"left","baseline":"middle"},"encoding":{"text":{"field":"t"}}},
   {"data":{"values":[{"t":"w̅ᵢₙ","x":48.3,"y":24.8}]},"mark":{"type":"text","font":"DejaVu Sans","fontStyle":"italic","fontSize":19,"baseline":"middle"},"encoding":{"text":{"field":"t"}}},
   {"data":{"values":[{"x":48.7,"y":7.98},{"x":48.7,"y":79.06}]},"mark":{"type":"circle","size":154,"color":"#231f20","opacity":1},"encoding":{}},
   {"data":{"values":[{"x":48.7,"y":19.04},{"x":48.7,"y":89.76}]},"mark":{"type":"circle","size":20,"color":"#231f20","opacity":1},"encoding":{}},
   {"data":{"values":[{"x":48.7,"y":28.74}]},"mark":{"type":"circle","size":154,"color":"#5b3b6e","opacity":1},"encoding":{}},
   {"data":{"values":[{"x":48.7,"y":39.51}]},"mark":{"type":"circle","size":154,"color":"#ecd3cd","opacity":1},"encoding":{}},
   {"data":{"values":[{"x":48.7,"y":13.56},{"x":48.7,"y":84.5}]},"mark":{"type":"point","shape":"M0,-1L0.352,-0.39L0.091,-0.39L0.013,1L-0.013,1L-0.091,-0.39L-0.352,-0.39Z","size":5868,"filled":true,"color":"#231f20","opacity":1,"strokeWidth":0},"encoding":{}},
   {"data":{"values":[{"x":48.7,"y":34.13}]},"mark":{"type":"point","shape":"M0,-1L0.345,-0.38L0.087,-0.38L0.087,1L-0.087,1L-0.087,-0.38L-0.345,-0.38Z","size":6131,"filled":true,"opacity":1,"strokeWidth":0,"fill":{"gradient":"linear","x1":0,"y1":0,"x2":0,"y2":1,"stops":[{"offset":0,"color":"#5b3b6e"},{"offset":0.31,"color":"#5b3b6e"},{"offset":1,"color":"#f0dcd8"}]}},"encoding":{}}
  ]},
 {"width":438,"height":944,
  "resolve":{"scale":{"y":"independent"}},
  "layer":[
   {"encoding":{"x":{"field":"x","type":"quantitative","scale":{"domain":[0,10]},"axis":null},"y":{"field":"y","type":"quantitative","scale":{"domain":[0,22.16],"reverse":true},"axis":null}},
    "layer":[
     {"data":{"name":"gv"},"mark":{"type":"rule","strokeWidth":3,"color":"#000","strokeCap":"square"},"encoding":{"x":{"field":"v","type":"quantitative"},"y":{"field":"lo","type":"quantitative"},"y2":{"field":"hi"}}},
     {"data":{"name":"gv"},"mark":{"type":"rule","strokeWidth":3,"color":"#000","strokeCap":"square"},"encoding":{"y":{"field":"v","type":"quantitative"},"x":{"field":"lo","type":"quantitative"},"x2":{"field":"hi"}}},
     {"data":{"name":"mg"},"mark":{"type":"circle","opacity":1},"encoding":{"size":{"field":"a","type":"quantitative","scale":{"domain":[0.49,0.66],"range":[18,175]},"legend":null},"color":{"field":"w","type":"quantitative","scale":{"domain":[0.0002,0.00062,0.00104,0.00146,0.00188,0.0023,0.00272,0.00314,0.00356,0.00398,0.0044],"range":["#edd1cb","#e5baba","#daa4ac","#cd8ea1","#bd7a98","#aa678f","#935685","#7b4778","#613969","#462b55","#2d1e3e"]},"legend":null}}},
     {"data":{"values":[{"x":7,"y":-0.47,"o":0},{"x":7,"y":10.2,"o":1}]},"mark":{"type":"line","color":"#000","strokeWidth":7,"strokeCap":"round","strokeDash":[38,10],"clip":false},"encoding":{"order":{"field":"o","type":"quantitative"}}},
     {"data":{"values":[{"t":"Motor","x":3.55,"y":-0.42},{"t":"Sensory","x":8.59,"y":-0.42}]},"mark":{"type":"text","fontSize":20,"baseline":"middle"},"encoding":{"text":{"field":"t"}}},
     {"data":{"values":[{"t":"MG","x":5.08,"y":-1.41}]},"mark":{"type":"text","fontSize":30,"fontWeight":"bold","baseline":"middle"},"encoding":{"text":{"field":"t"}}}
    ]},
   {"encoding":{"x":{"field":"x","type":"quantitative","scale":{"domain":[0,10]},"axis":null},"y":{"field":"y","type":"quantitative","scale":{"domain":[-12.16,10],"reverse":true},"axis":null}},
    "layer":[
     {"data":{"name":"gv"},"mark":{"type":"rule","strokeWidth":3,"color":"#000","strokeCap":"square"},"encoding":{"x":{"field":"v","type":"quantitative"},"y":{"field":"lo","type":"quantitative"},"y2":{"field":"hi"}}},
     {"data":{"name":"gv"},"mark":{"type":"rule","strokeWidth":3,"color":"#000","strokeCap":"square"},"encoding":{"y":{"field":"v","type":"quantitative"},"x":{"field":"lo","type":"quantitative"},"x2":{"field":"hi"}}},
     {"data":{"name":"mg"},"mark":{"type":"circle","opacity":1},"encoding":{"size":{"field":"a","type":"quantitative","scale":{"domain":[0.49,0.66],"range":[18,175]},"legend":null},"color":{"field":"w","type":"quantitative","scale":{"domain":[0.0002,0.00062,0.00104,0.00146,0.00188,0.0023,0.00272,0.00314,0.00356,0.00398,0.0044],"range":["#edd1cb","#e5baba","#daa4ac","#cd8ea1","#bd7a98","#aa678f","#935685","#7b4778","#613969","#462b55","#2d1e3e"]},"legend":null}}},
     {"data":{"values":[{"x":7,"y":-0.47,"o":0},{"x":7,"y":10.23,"o":1}]},"mark":{"type":"line","color":"#000","strokeWidth":7,"strokeCap":"round","strokeDash":[38,10],"clip":false},"encoding":{"order":{"field":"o","type":"quantitative"}}},
     {"data":{"values":[{"t":"Motor","x":3.6,"y":-0.42},{"t":"Sensory","x":8.63,"y":-0.42}]},"mark":{"type":"text","fontSize":20,"baseline":"middle"},"encoding":{"text":{"field":"t"}}}
    ]}
  ]}
 ],"spacing":0,"bounds":"flush","resolve":{"scale":{"color":"independent","size":"independent","x":"independent","y":"independent"}}},
{"hconcat":[
 {"width":86,"height":269,"data":{"values":[]},"mark":"point","title":{"text":"c","anchor":"start","dx":-14,"offset":15,"baseline":"alphabetic","font":"Liberation Sans","fontSize":26,"fontWeight":"bold","frame":"group"}},
 {"width":277,"height":269,
  "title":{"text":"TY","subtitle":"r = 0.60","offset":-12},
  "encoding":{"x":{"field":"x","type":"quantitative","scale":{"domain":[-0.00036,0.00587],"nice":false,"zero":false},"axis":{"values":[0,0.002,0.004],"format":".3f","title":"Average in-weight"}},
              "y":{"field":"y","type":"quantitative","scale":{"domain":[-0.0455,0.152],"nice":false,"zero":false},"axis":{"values":[0,0.05,0.1,0.15],"format":".2f","title":"AUC added by FN"}}},
  "layer":[
   {"data":{"name":"cty"},"mark":{"type":"circle","size":36,"fill":"#808080","stroke":"#ffffff","strokeWidth":0.7,"opacity":1},"encoding":{}},
   {"data":{"values":[{"x":0.00015,"y":0.0044},{"x":0.00537,"y":0.0784}]},"mark":{"type":"line","color":"#000","strokeWidth":2.3},"encoding":{}}
  ]},
 {"width":66,"height":269,"data":{"values":[]},"mark":"point"},
 {"width":278,"height":269,
  "title":{"text":"MG","subtitle":"r = 0.62","offset":-4},
  "encoding":{"x":{"field":"x","type":"quantitative","scale":{"domain":[-0.00027,0.00489],"nice":false,"zero":false},"axis":{"values":[0,0.002,0.004],"format":".3f","title":"Average in-weight"}},
              "y":{"field":"y","type":"quantitative","scale":{"domain":[-0.017,0.1464],"nice":false,"zero":false},"axis":{"values":[0,0.05,0.1],"format":".2f","title":null}}},
  "layer":[
   {"data":{"name":"cmg"},"mark":{"type":"circle","size":36,"fill":"#808080","stroke":"#ffffff","strokeWidth":0.7,"opacity":1},"encoding":{}},
   {"data":{"values":[{"x":0.000155,"y":0.0166},{"x":0.00445,"y":0.1117}]},"mark":{"type":"line","color":"#000","strokeWidth":2.3},"encoding":{}}
  ]},
 {"width":107,"height":269,"data":{"values":[]},"mark":"point","title":{"text":"d","anchor":"start","dx":20,"offset":16,"baseline":"alphabetic","font":"Liberation Sans","fontSize":26,"fontWeight":"bold","frame":"group"}},
 {"width":277,"height":269,
  "title":{"text":"TY","subtitle":"r = 0.19","offset":-16},
  "encoding":{"x":{"field":"x","type":"quantitative","scale":{"domain":[0.4718,0.758],"nice":false,"zero":false},"axis":{"values":[0.5,0.6,0.7],"format":".1f","title":"Average AUC"}},
              "y":{"field":"y","type":"quantitative","scale":{"domain":[-0.089,1.094],"nice":false,"zero":false},"axis":{"values":[0,0.2,0.4,0.6,0.8,1.0],"format":".1f","title":"Squared pearson correlation"}}},
  "layer":[
   {"data":{"name":"dty"},"mark":{"type":"circle","size":82,"fill":"#808080","stroke":"#ffffff","strokeWidth":0.6,"opacity":1},"encoding":{}},
   {"data":{"values":[{"x":0.4959,"y":0.264},{"x":0.7362,"y":0.667}]},"mark":{"type":"line","color":"#000","strokeWidth":2.3},"encoding":{}}
  ]},
 {"width":23,"height":269,"data":{"values":[]},"mark":"point"},
 {"width":277,"height":269,
  "title":{"text":"MG","subtitle":"r = 0.33","offset":-4},
  "encoding":{"x":{"field":"x","type":"quantitative","scale":{"domain":[0.4759,0.6519],"nice":false,"zero":false},"axis":{"values":[0.5,0.55,0.6,0.65],"format":".2f","title":"Average AUC"}},
              "y":{"field":"y","type":"quantitative","scale":{"domain":[-0.089,1.094],"nice":false,"zero":false},"axis":{"values":[0,0.2,0.4,0.6,0.8,1.0],"labels":false,"title":null}}},
  "layer":[
   {"data":{"name":"dmg"},"mark":{"type":"circle","size":62,"fill":"#808080","stroke":"#ffffff","strokeWidth":0.6,"opacity":1},"encoding":{}},
   {"data":{"values":[{"x":0.4906,"y":0.1537},{"x":0.6385,"y":0.751}]},"mark":{"type":"line","color":"#000","strokeWidth":2.3},"encoding":{}}
  ]}
 ],"spacing":0,"bounds":"flush","resolve":{"scale":{"color":"independent","size":"independent","x":"independent","y":"independent"}}}
],
"spacing":14,
"resolve":{"scale":{"color":"independent","size":"independent","x":"independent","y":"independent"}}
}
